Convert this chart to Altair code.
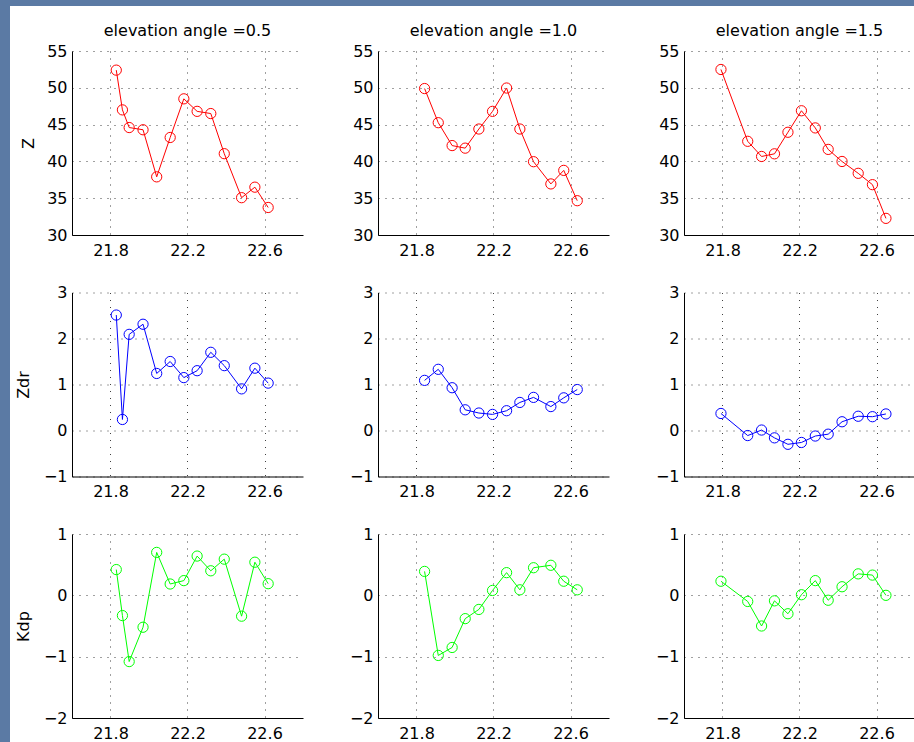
import altair as alt
import pandas as pd

# ---------------- data ----------------
angles = ["0.5", "1.0", "1.5"]
titles = ["elevation angle =" + a for a in angles]
row_names = ["Z", "Zdr", "Kdp"]
row_colors = ["#ff0000", "#0000ff", "#00ff00"]
y_domains = [[30, 55], [-1, 3], [-2, 1]]
y_ticks = [[30, 35, 40, 45, 50, 55], [-1, 0, 1, 2, 3], [-2, -1, 0, 1]]
x_ticks = [21.8, 22.2, 22.6]

x_05 = [21.830, 21.862, 21.897, 21.969, 22.040, 22.110, 22.181, 22.250, 22.321, 22.391, 22.481, 22.550, 22.619]
x_10 = [21.842, 21.913, 21.985, 22.053, 22.124, 22.195, 22.268, 22.337, 22.408, 22.498, 22.565, 22.635]
x_15 = [21.792, 21.931, 22.003, 22.070, 22.140, 22.210, 22.282, 22.349, 22.421, 22.505, 22.579, 22.649]

z_05 = [52.4, 47.0, 44.6, 44.3, 37.9, 43.25, 48.5, 46.8, 46.5, 41.05, 35.07, 36.5, 33.74]
z_10 = [49.9, 45.26, 42.15, 41.8, 44.4, 46.8, 49.97, 44.4, 39.96, 36.94, 38.78, 34.66]
z_15 = [52.49, 42.73, 40.67, 41.03, 43.96, 46.88, 44.55, 41.63, 39.99, 38.38, 36.84, 32.26]

zdr_05 = [2.51, 0.24, 2.09, 2.31, 1.24, 1.50, 1.15, 1.30, 1.70, 1.41, 0.905, 1.355, 1.03]
zdr_10 = [1.09, 1.33, 0.93, 0.45, 0.38, 0.35, 0.43, 0.61, 0.72, 0.52, 0.71, 0.89]
zdr_15 = [0.37, -0.11, 0.01, -0.16, -0.30, -0.26, -0.12, -0.08, 0.19, 0.31, 0.30, 0.36]

kdp_05 = [0.42, -0.33, -1.08, -0.52, 0.70, 0.185, 0.24, 0.64, 0.40, 0.59, -0.34, 0.54, 0.19]
kdp_10 = [0.39, -0.98, -0.85, -0.38, -0.23, 0.08, 0.37, 0.09, 0.45, 0.49, 0.23, 0.09]
kdp_15 = [0.23, -0.10, -0.50, -0.09, -0.30, 0.01, 0.24, -0.08, 0.14, 0.35, 0.33, 0.00]

xs_by_col = [x_05, x_10, x_15]
values = [
    [z_05, z_10, z_15],
    [zdr_05, zdr_10, zdr_15],
    [kdp_05, kdp_10, kdp_15],
]

# ---------------- layout ----------------
PW = [231, 231, 230]
PH = 184
COL_GAP = 75
ROW_GAP = 57.5
X_DOMAINS = [[21.6, 22.8], [21.6, 22.8], [21.6, 21.6 + 1.2 * 230 / 231]]
LEFT, TOP = 72, 51           # canvas position of the first plot area
CANVAS_W, CANVAS_H = 914, 742
BLUE = "#5b7aa4"
FONT = "DejaVu Sans"
TITLE_PAD = [6, 11, 11]


def panel(r, c):
    df = pd.DataFrame({"range": xs_by_col[c], "val": values[r][c]})
    x = alt.X(
        "range:Q",
        scale=alt.Scale(domain=X_DOMAINS[c], nice=False, zero=False),
        axis=alt.Axis(values=x_ticks, format=".1f", title=None, labelPadding=7),
    )
    y = alt.Y(
        "val:Q",
        scale=alt.Scale(domain=y_domains[r], nice=False, zero=False),
        axis=alt.Axis(values=y_ticks[r], format="d", labelPadding=5,
                      minExtent=30, maxExtent=30, titlePadding=TITLE_PAD[r],
                      title=row_names[r] if c == 0 else None),
    )
    col = row_colors[r]
    line = alt.Chart(df).mark_line(color=col, strokeWidth=1).encode(x=x, y=y)
    pts = alt.Chart(df).mark_point(
        shape="circle", filled=False, color=col, size=105, strokeWidth=1, opacity=1
    ).encode(x=x, y=y)
    layers = [line, pts]
    if r == 0:
        ttl = alt.Chart(pd.DataFrame({"t": [titles[c]]})).mark_text(
            font=FONT, fontSize=16, color="black", align="center", baseline="alphabetic"
        ).encode(x=alt.value(115.5), y=alt.value(-15), text="t:N")
        layers.append(ttl)
    if r == 1 and c == 0:
        # blue frame strips of the slide around the white figure (left and top)
        oy = TOP + PH + ROW_GAP
        left_strip = alt.Chart(pd.DataFrame({"k": [0]})).mark_rect(color=BLUE).encode(
            x=alt.value(-LEFT), x2=alt.value(10 - LEFT),
            y=alt.value(-oy), y2=alt.value(CANVAS_H - oy),
        )
        top_strip = alt.Chart(pd.DataFrame({"k": [0]})).mark_rect(color=BLUE).encode(
            x=alt.value(-LEFT), x2=alt.value(CANVAS_W - LEFT),
            y=alt.value(-oy), y2=alt.value(6 - oy),
        )
        layers = [left_strip, top_strip] + layers
    return alt.layer(*layers).properties(width=PW[c], height=PH)


panels = [panel(r, c) for r in range(3) for c in range(3)]

chart = alt.concat(
    *panels, columns=3, spacing={"row": ROW_GAP, "column": COL_GAP}, bounds="flush"
).properties(
    padding={"left": 0, "top": 0, "right": 0, "bottom": 0},
    background="white",
).configure_view(
    stroke=None
).configure_axis(
    labelFont=FONT, labelFontSize=16, labelColor="black",
    titleFont=FONT, titleFontSize=16, titleFontWeight="normal", titleColor="black",
    domainColor="black", domainWidth=1,
    ticks=False, tickSize=0,
    gridColor="black", gridDash=[1, 6], gridWidth=1, gridOpacity=0.75,
)

chart.save("out.html", embed_options={"renderer": "svg", "actions": False})
